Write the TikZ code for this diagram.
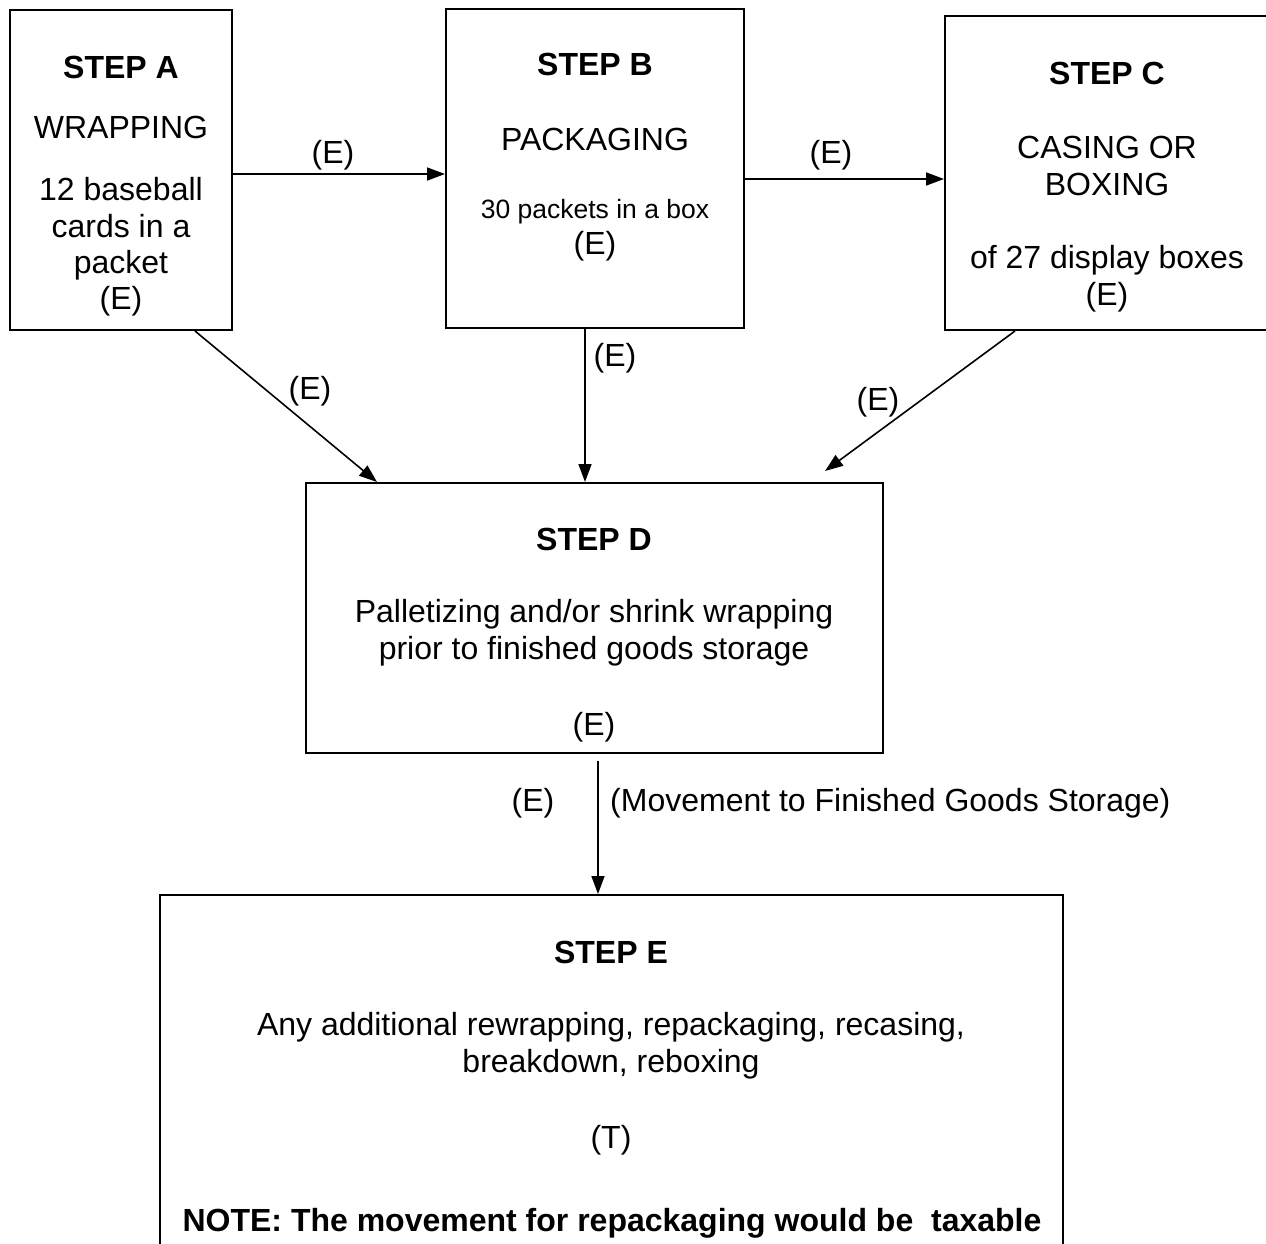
\documentclass[tikz,border=0pt]{standalone}
\usepackage{fontspec}
\setmainfont{Liberation Sans}
\usetikzlibrary{arrows.meta}
\begin{document}
\begin{tikzpicture}[x=1pt,y=-1pt,
  stepbox/.style={draw,line width=2pt,inner sep=0pt},
  txt/.style={anchor=base,inner sep=0pt,font=\fontsize{32}{37}\selectfont},
  small/.style={anchor=base,inner sep=0pt,font=\fontsize{26.5}{32}\selectfont},
  head/.style={txt,font=\fontsize{32}{37}\selectfont\bfseries},
  arr/.style={line width=1.6pt,-{Triangle[length=18pt,width=13pt]}}]
\useasboundingbox (0,0) rectangle (1266,1243);
\clip (0,0) rectangle (1266,1243);
\fill[white] (0,0) rectangle (1266,1243);

% process boxes
\node[stepbox,minimum width=222,minimum height=320] (A) at (121,170) {};
\node[stepbox,minimum width=298,minimum height=319] (B) at (595,168.5) {};
\node[stepbox,minimum width=355,minimum height=314] (C) at (1122.5,173) {};
\node[stepbox,minimum width=577,minimum height=270] (D) at (594.5,618) {};
\node[stepbox,minimum width=903,minimum height=405] (E) at (611.5,1097.5) {};

% step A
\node[head] (a1) at (121,78) {STEP A};
\node[txt]  (a2) at (121,138) {WRAPPING};
\node[txt]  (a3) at (121,200) {12 baseball};
\node[txt]  (a4) at (121,237) {cards in a};
\node[txt]  (a5) at (121,273) {packet};
\node[txt]  (a6) at (121,309) {(E)};

% step B
\node[head]  (b1) at (595,75) {STEP B};
\node[txt]   (b2) at (595,150) {PACKAGING};
\node[small] (b3) at (595,218) {30 packets in a box};
\node[txt]   (b4) at (595,254) {(E)};

% step C
\node[head] (c1) at (1107,84) {STEP C};
\node[txt]  (c2) at (1107,158) {CASING OR};
\node[txt]  (c3) at (1107,195) {BOXING};
\node[txt]  (c4) at (1107,268) {of 27 display boxes};
\node[txt]  (c5) at (1107,305) {(E)};

% step D
\node[head] (d1) at (594,550) {STEP D};
\node[txt]  (d2) at (594,622) {Palletizing and/or shrink wrapping};
\node[txt]  (d3) at (594,659) {prior to finished goods storage};
\node[txt]  (d4) at (594,735) {(E)};

% step E
\node[head] (e1) at (611,963) {STEP E};
\node[txt]  (e2) at (611,1035) {Any additional rewrapping, repackaging, recasing,};
\node[txt]  (e3) at (611,1072) {breakdown, reboxing};
\node[txt]  (e4) at (611,1148) {(T)};
\node[head] (e5) at (612,1231) {NOTE: The movement for repackaging would be\ \ taxable};

% connectors
\draw[arr] (A.east |- 0,174) -- (B.west |- 0,174);
\draw[arr] (B.east |- 0,179) -- (C.west |- 0,179);
\draw[arr] ([xshift=74pt]A.south) -- ([xshift=-217.5pt]D.north);
\draw[arr] ([xshift=-10pt]B.south) -- ([xshift=-9.5pt]D.north);
\draw[arr] ([xshift=-107.5pt]C.south) -- ([xshift=230.5pt,yshift=11pt]D.north);
\draw[arr] ([xshift=3.5pt,yshift=-7pt]D.south) -- ([xshift=3.5pt]D.south |- E.north);

% connector labels
\node[txt] (l1) at (333,163) {(E)};
\node[txt] (l2) at (831,163) {(E)};
\node[txt] (l3) at (310,399) {(E)};
\node[txt] (l4) at (615,366) {(E)};
\node[txt] (l5) at (878,410) {(E)};
\node[txt] (l6) at (533,811) {(E)};
\node[txt,anchor=base west] (l7) at (610,811) {(Movement to Finished Goods Storage)};
\end{tikzpicture}
\end{document}
